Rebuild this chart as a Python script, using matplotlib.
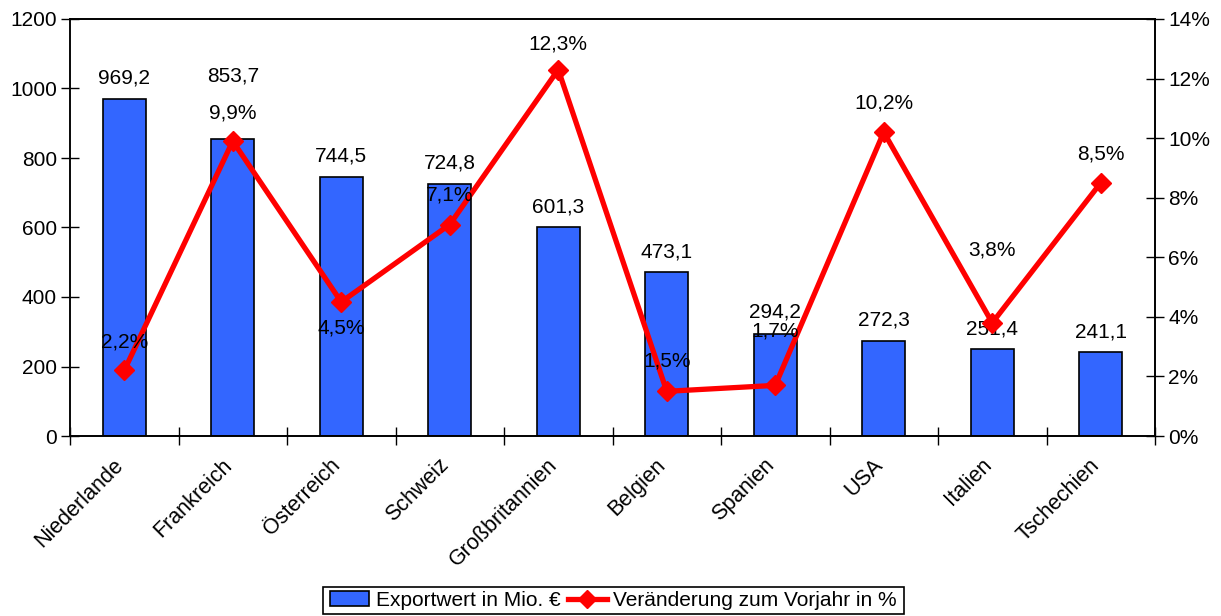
import matplotlib
matplotlib.use("Agg")
import matplotlib.pyplot as plt
from matplotlib.lines import Line2D
from matplotlib.patches import Patch, Rectangle

plt.rcParams['font.family'] = ['Liberation Sans', 'DejaVu Sans']

countries = ["Niederlande", "Frankreich", "Österreich", "Schweiz", "Großbritannien",
             "Belgien", "Spanien", "USA", "Italien", "Tschechien"]
export_values = [969.2, 853.7, 744.5, 724.8, 601.3, 473.1, 294.2, 272.3, 251.4, 241.1]
change_pct = [2.2, 9.9, 4.5, 7.1, 12.3, 1.5, 1.7, 10.2, 3.8, 8.5]
left_ticks = [0, 200, 400, 600, 800, 1000, 1200]
right_ticks = [0, 2, 4, 6, 8, 10, 12, 14]

# label offsets in pixels (y, upward positive)
bar_label_dy = [21, 63, 21, 21, 20, 20, 22, 21, 20, 20]
pct_label_dy = [28, 28, -26, 30, 26, 30, 54, 29, 73, 29]

W, H = 1221, 616
fig = plt.figure(figsize=(W / 100, H / 100), dpi=100)
ax = fig.add_axes([70 / W, (H - 436) / H, (1155 - 70) / W, (436 - 19) / H])
ax2 = ax.twinx()

fs = 15
xfs = 15.5
lfs = 15
x = list(range(len(countries)))
bar_color = "#3366FF"
line_color = "#FF0000"

ax.bar(x, export_values, width=0.4, color=bar_color, edgecolor="black", linewidth=1.2, zorder=2)
ax.set_xlim(-0.5, len(countries) - 0.5)
ax.set_ylim(0, 1200)
ax.set_yticks(left_ticks)
ax.set_yticklabels([str(t) for t in left_ticks], fontsize=fs)
ax.set_xticks([i + 0.5 for i in range(-1, len(countries))], minor=False)
ax.set_xticklabels([])
ax.tick_params(axis='x', which='major', direction='inout', length=13, width=1)
ax.tick_params(axis='y', direction='inout', length=13, width=1, pad=3)

for i, name in enumerate(countries):
    ax.annotate(name, xy=(i, 0), xycoords=('data', 'axes fraction'),
                xytext=(-4, -26), textcoords='offset pixels',
                rotation=45, rotation_mode='anchor', ha='right', va='center', fontsize=xfs)

for i, v in enumerate(export_values):
    ax.annotate(f"{v:.1f}".replace('.', ','), xy=(i, v), xytext=(0, bar_label_dy[i]),
                textcoords='offset pixels', ha='center', va='center', fontsize=fs, zorder=5)

ax2.plot(x, change_pct, color=line_color, linewidth=3.8, marker='D', markersize=10,
         markeredgecolor=line_color, zorder=3)
ax2.set_ylim(0, 14)
ax2.set_yticks(right_ticks)
ax2.set_yticklabels([f"{t}%" for t in right_ticks], fontsize=fs)
ax2.tick_params(axis='y', direction='inout', length=13, width=1, pad=3)

for i, v in enumerate(change_pct):
    ax2.annotate(f"{v:.1f}%".replace('.', ','), xy=(i, v), xytext=(0, pct_label_dy[i]),
                 textcoords='offset pixels', ha='center', va='center', fontsize=fs, zorder=6)

for a in (ax, ax2):
    for s in a.spines.values():
        s.set_linewidth(1.2)
        s.set_color("black")
ax.spines['left'].set_color("#333333")

handles = [Patch(facecolor=bar_color, edgecolor="black", linewidth=1.2),
           Line2D([0], [0], color=line_color, linewidth=3.8, marker='D', markersize=9)]
leg = fig.legend(handles, ["Exportwert in Mio. €", "Veränderung zum Vorjahr in %"],
                 loc='center', bbox_to_anchor=(613.5 / W, 1 - 600.5 / H), ncol=2,
                 fontsize=lfs, frameon=False,
                 borderpad=0, handlelength=1.9, handletextpad=0.3, columnspacing=0.35,
                 borderaxespad=0)
fig.patches.append(Rectangle((323 / W, 1 - 614 / H), (904 - 323) / W, 27 / H,
                             transform=fig.transFigure, fill=False, edgecolor="black",
                             linewidth=1.2))

fig.savefig("out.png", dpi=100)
